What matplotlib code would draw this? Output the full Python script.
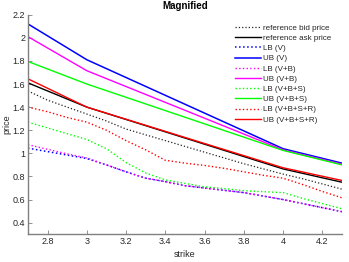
import numpy as np
import matplotlib.pyplot as plt

plt.rcParams['font.family'] = ['Liberation Sans', 'DejaVu Sans']

# strike grid for the lower bounds / bid (dotted curves)
strike_fine = [2.7, 2.8, 2.9, 3.0, 3.1, 3.2, 3.3, 3.4, 3.5, 3.6, 3.7, 3.8, 3.9, 4.0, 4.1, 4.2, 4.3]
# strike grid for the upper bounds / ask (solid lines)
strike_coarse = [2.7, 3.0, 4.0, 4.3]

bid = [1.54, 1.46, 1.40, 1.34, 1.28, 1.21, 1.16, 1.11, 1.06, 1.01, 0.96, 0.91, 0.865, 0.82, 0.78, 0.735, 0.69]
ask = [1.61, 1.40, 0.865, 0.75]

lb_v = [1.045, 1.015, 0.985, 0.955, 0.90, 0.84, 0.785, 0.755, 0.72, 0.70, 0.68, 0.66, 0.63, 0.60, 0.565, 0.53, 0.495]
ub_v = [2.12, 1.81, 1.04, 0.915]
lb_vb = [1.075, 1.035, 0.995, 0.96, 0.90, 0.84, 0.785, 0.755, 0.72, 0.70, 0.68, 0.66, 0.63, 0.60, 0.565, 0.53, 0.495]
ub_vb = [2.01, 1.715, 1.03, 0.905]
lb_vbs = [1.27, 1.22, 1.17, 1.12, 1.04, 0.92, 0.83, 0.77, 0.74, 0.71, 0.695, 0.677, 0.668, 0.66, 0.61, 0.565, 0.52]
ub_vbs = [1.795, 1.60, 1.025, 0.90]
lb_vbsr = [1.40, 1.36, 1.31, 1.27, 1.20, 1.11, 1.03, 0.94, 0.915, 0.895, 0.87, 0.84, 0.81, 0.785, 0.73, 0.67, 0.615]
ub_vbsr = [1.645, 1.40, 0.875, 0.765]

fig = plt.figure(figsize=(3.49, 2.62), dpi=100)
ax = fig.add_axes([0.080, 0.106, 0.900, 0.838])

ax.plot(strike_fine, bid, ':', color='#222222', lw=0.9, label='reference bid price')
ax.plot(strike_coarse, ask, '-', color='black', lw=1.0, label='reference ask price')
ax.plot(strike_fine, lb_v, ':', color='#0000ff', lw=1.1, label='LB (V)')
ax.plot(strike_coarse, ub_v, '-', color='#0000ff', lw=1.1, label='UB (V)')
ax.plot(strike_fine, lb_vb, ':', color='#ff00ff', lw=1.0, label='LB (V+B)')
ax.plot(strike_coarse, ub_vb, '-', color='#ff00ff', lw=1.0, label='UB (V+B)')
ax.plot(strike_fine, lb_vbs, ':', color='#00ff00', lw=1.0, label='LB (V+B+S)')
ax.plot(strike_coarse, ub_vbs, '-', color='#00ff00', lw=1.0, label='UB (V+B+S)')
ax.plot(strike_fine, lb_vbsr, ':', color='#ff0000', lw=1.0, label='LB (V+B+S+R)')
ax.plot(strike_coarse, ub_vbsr, '-', color='#ff0000', lw=1.0, label='UB (V+B+S+R)')

ax.set_xlim(2.7, 4.3)
ax.set_ylim(0.3, 2.2)
ax.set_xticks([2.8, 3.0, 3.2, 3.4, 3.6, 3.8, 4.0, 4.2])
ax.set_xticklabels(['2.8', '3', '3.2', '3.4', '3.6', '3.8', '4', '4.2'])
ax.set_yticks([0.4, 0.6, 0.8, 1.0, 1.2, 1.4, 1.6, 1.8, 2.0, 2.2])
ax.set_yticklabels(['0.4', '0.6', '0.8', '1', '1.2', '1.4', '1.6', '1.8', '2', '2.2'])

for side in ['top', 'right']:
    ax.spines[side].set_visible(False)
for side in ['left', 'bottom']:
    ax.spines[side].set_color('#808080')
    ax.spines[side].set_linewidth(1.0)
ax.tick_params(direction='in', length=3, width=0.6, color='#808080',
               labelsize=6.5, labelcolor='#262626', pad=2)

ax.set_title('Magnified', fontsize=7, fontweight='bold', pad=4)
ax.set_xlabel('strike', fontsize=6.5, color='#262626', labelpad=3)
ax.set_ylabel('price', fontsize=6.5, color='#262626', labelpad=1)

leg = ax.legend(loc='upper right', bbox_to_anchor=(0.95, 0.908), bbox_transform=fig.transFigure,
                frameon=False, fontsize=5.8, handlelength=3.2, handletextpad=0.3,
                labelspacing=0.32, borderaxespad=0, borderpad=0)
for t in leg.get_texts():
    t.set_color('#262626')

fig.savefig('out.png', dpi=100)
